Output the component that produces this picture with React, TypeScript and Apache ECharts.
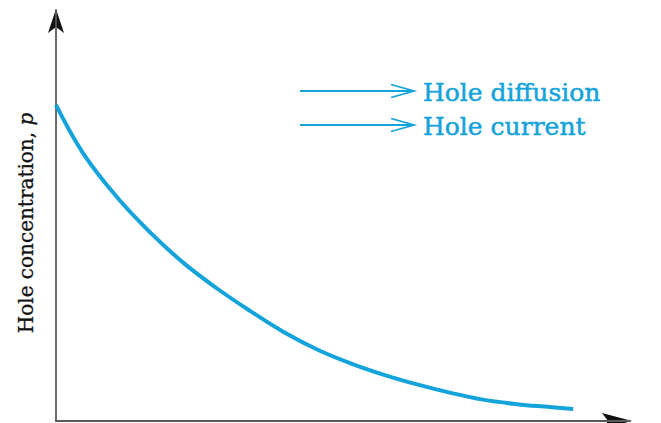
import React, { useEffect, useRef } from "react";
import * as echarts from "echarts";

// Hole concentration profile p(x), decaying away from the junction
const positions = [0, 4.7, 10.6, 16.4, 22.1, 28.0, 33.8, 39.5, 45.5, 51.2, 57.0, 62.9, 68.6, 74.4, 80.3, 86.1, 90.1];
const concentration = [76.9, 65.2, 54.5, 45.9, 38.6, 32.3, 26.8, 21.8, 17.4, 14.1, 11.3, 8.9, 6.9, 5.2, 4.1, 3.4, 2.9];

const flowLabels = ["Hole diffusion", "Hole current"];

const CYAN = "#14a3da";
const SERIF = "'DejaVu Serif', 'Liberation Serif', serif";

export default function App() {
  const ref = useRef<HTMLDivElement>(null);

  useEffect(() => {
    if (!ref.current) return;
    const chart = echarts.init(ref.current, undefined, { renderer: "svg" });

    const arrowRows = [91, 125];
    const graphics: any[] = [];
    flowLabels.forEach((label, i) => {
      const y = arrowRows[i];
      graphics.push(
        {
          type: "line",
          shape: { x1: 300, y1: y, x2: 413, y2: y },
          style: { stroke: CYAN, lineWidth: 1.8 },
        },
        {
          type: "polyline",
          shape: { points: [[391, y - 6.5], [414, y], [391, y + 6.5]] },
          style: { stroke: CYAN, lineWidth: 1.8, fill: "none" },
        },
        {
          type: "text",
          x: 423,
          y: y + 1,
          style: {
            text: label,
            fill: CYAN,
            stroke: CYAN,
            lineWidth: 0.5,
            font: `25px ${SERIF}`,
            textVerticalAlign: "middle",
          },
        }
      );
    });

    // axis label with an italic symbol
    graphics.push({
      type: "text",
      x: 26,
      y: 223,
      rotation: Math.PI / 2,
      style: {
        text: "Hole concentration, {i|p}",
        fill: "#111",
        stroke: "#111",
        lineWidth: 0.3,
        font: `20px ${SERIF}`,
        textAlign: "center",
        textVerticalAlign: "middle",
        rich: { i: { fontStyle: "italic", fontSize: 20, fontFamily: SERIF, fill: "#111" } },
      },
    });

    // solid black arrowheads at the ends of both axes
    graphics.push(
      {
        type: "polygon",
        shape: { points: [[56, 9], [64, 33], [56, 27], [48, 33]] },
        style: { fill: "#111" },
      },
      {
        type: "polygon",
        shape: { points: [[632, 421], [602, 413], [608, 421], [602, 429]] },
        style: { fill: "#111" },
      }
    );

    const axisCommon = {
      type: "value" as const,
      min: 0,
      max: 100,
      axisTick: { show: false },
      axisLabel: { show: false },
      splitLine: { show: false },
      axisLine: {
        show: true,
        lineStyle: { color: "#5a5a5a", width: 1.8 },
      },
    };

    chart.setOption({
      animation: false,
      backgroundColor: "#ffffff",
      grid: { left: 56, right: 31, top: 10, bottom: 2, containLabel: false },
      xAxis: axisCommon,
      yAxis: axisCommon,
      series: [
        {
          type: "line",
          data: positions.map((x, i) => [x, concentration[i]]),
          smooth: 0.4,
          showSymbol: false,
          lineStyle: { color: CYAN, width: 4 },
        },
      ],
      graphic: graphics,
    });

    return () => chart.dispose();
  }, []);

  return <div ref={ref} style={{ width: 661, height: 423, position: "absolute", left: 0, top: 0 }} />;
}
